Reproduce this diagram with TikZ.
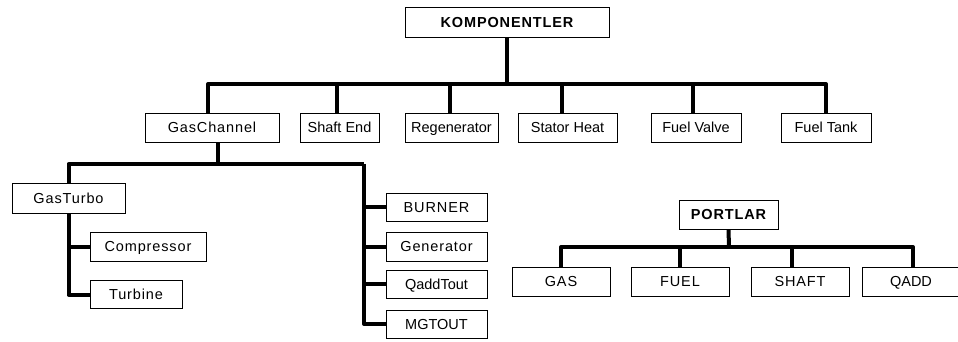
\documentclass[tikz,border=0pt]{standalone}
\usepackage{fontspec}
\setmainfont{Liberation Sans}
\newfontfamily\anchafont{Liberation Sans}[LetterSpace=6]
\usepackage{tikz}
\usetikzlibrary{positioning}

\begin{document}
\begin{tikzpicture}[
    x=1pt, y=-1pt,
    % 1. Caja base con texto espaciado
    caja/.style={
        draw=black, line width=1pt, fill=white,
        minimum height=29pt, inner sep=0pt,
        text height=12pt, text depth=1.6pt,
        font=\fontsize{14.5}{16}\selectfont\anchafont
    },
    % 2. Caja con texto sin espaciar
    cajaplana/.style={caja, font=\fontsize{14.5}{16}\selectfont\rmfamily},
    % 3. Cajas raiz en negrita
    raiz/.style={caja, minimum height=30pt, font=\fontsize{14.5}{16}\selectfont\anchafont\bfseries},
    % 4. Ramas gruesas del arbol
    rama/.style={line width=4pt, line join=round}
]
    \clip (0,0) rectangle (958,341);

    % --- NIVEL 0 ---
    \node[raiz, minimum width=204pt] (komp) at (507,22) {KOMPONENTLER};
    \coordinate (kbar) at (507,84);

    % --- NIVEL 1 ---
    \node[caja, minimum width=134pt] (gaschannel) at (212,127.5) {GasChannel};
    \node[cajaplana, minimum width=79pt] (shaftend) at (339.5,127.5) {Shaft End};
    \node[cajaplana, minimum width=93pt] (regen) at (451.5,127.5) {Regenerator};
    \node[cajaplana, minimum width=99pt] (stator) at (567.5,127.5) {Stator Heat};
    \node[cajaplana, minimum width=90pt] (fuelvalve) at (696,127.5) {Fuel Valve};
    \node[cajaplana, minimum width=90pt] (fueltank) at (826,127.5) {Fuel Tank};

    \draw[rama] (komp.south) -- (kbar);
    \draw[rama] ([xshift=-4pt]gaschannel.north) |- (kbar);
    \draw[rama] ([xshift=-3pt]shaftend.north) |- (kbar);
    \draw[rama] ([xshift=-2pt]regen.north) |- (kbar);
    \draw[rama] ([xshift=-6pt]stator.north) |- (kbar);
    \draw[rama] ([xshift=-3pt]fuelvalve.north) |- (kbar);
    \draw[rama] (fueltank.north) |- (kbar);

    % --- GASCHANNEL ---
    \coordinate (gbar) at (218,164);
    \coordinate (gright) at (364,164);
    \node[caja, minimum width=113pt, minimum height=30pt] (gasturbo) at (68.5,198) {GasTurbo};
    \node[caja, minimum width=116pt] (compressor) at (148,246.5) {Compressor};
    \node[caja, minimum width=92pt, minimum height=28pt] (turbine) at (136,294.5) {Turbine};
    \node[caja, minimum width=101pt, minimum height=28pt] (burner) at (436.5,207) {BURNER};
    \node[caja, minimum width=101pt] (generator) at (436.5,246.5) {Generator};
    \node[cajaplana, minimum width=101pt, minimum height=28pt] (qaddtout) at (436.5,284) {QaddTout};
    \node[cajaplana, minimum width=101pt, minimum height=28pt] (mgtout) at (436.5,324) {MGTOUT};

    \draw[rama] ([xshift=6pt]gaschannel.south) -- (gbar);
    \draw[rama] (gasturbo.north) |- (gbar) -- (gright);
    \draw[rama] (burner.west) -| (gright);
    \draw[rama] (generator.west) -| (gright);
    \draw[rama] (qaddtout.west) -| (gright);
    \draw[rama] (mgtout.west) -| (gright);
    \draw[rama] (compressor.west) -| (gasturbo.south);
    \draw[rama] (turbine.west) -| (gasturbo.south);

    % --- PORTLAR ---
    \node[raiz, minimum width=99pt, minimum height=29pt] (portlar) at (728.5,214.5) {PORTLAR};
    \coordinate (pbar) at (729,247);
    \node[caja, minimum width=98pt] (gas) at (561,281.5) {GAS};
    \node[caja, minimum width=98pt] (fuel) at (680,281.5) {FUEL};
    \node[caja, minimum width=98pt] (shaft) at (800,281.5) {SHAFT};
    \node[cajaplana, minimum width=98pt] (qadd) at (911,281.5) {QADD};

    \draw[rama] (portlar.south) -- (pbar);
    \draw[rama] (gas.north) |- (pbar);
    \draw[rama] (fuel.north) |- (pbar);
    \draw[rama] ([xshift=-8pt]shaft.north) |- (pbar);
    \draw[rama] ([xshift=2pt]qadd.north) |- (pbar);

\end{tikzpicture}
\end{document}
